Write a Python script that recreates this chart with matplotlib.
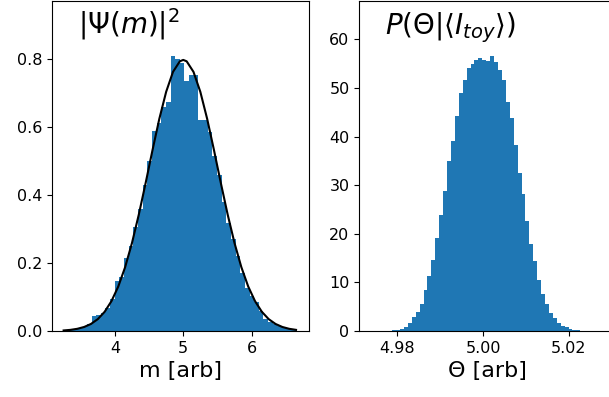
import numpy as np
import matplotlib
matplotlib.use("Agg")
import matplotlib.pyplot as plt
from matplotlib.ticker import FormatStrFormatter

# left panel: histogram of m (density), 50 bins
m_lo, m_hi = 3.25, 6.65
m_heights = [0.003, 0.005, 0.006, 0.009, 0.013, 0.020, 0.044, 0.046, 0.052, 0.068,
             0.095, 0.146, 0.160, 0.215, 0.250, 0.305, 0.360, 0.430, 0.500, 0.590,
             0.612, 0.660, 0.675, 0.810, 0.800, 0.790, 0.735, 0.755, 0.755, 0.620,
             0.622, 0.585, 0.515, 0.460, 0.380, 0.318, 0.272, 0.220, 0.172, 0.128,
             0.104, 0.086, 0.060, 0.034, 0.028, 0.022, 0.014, 0.010, 0.006, 0.004]

# black curve |Psi(m)|^2
curve_m = [3.25, 3.35, 3.45, 3.55, 3.65, 3.75, 3.85, 3.95, 4.05, 4.15, 4.25, 4.35,
           4.45, 4.55, 4.65, 4.75, 4.85, 4.95, 5.00, 5.05, 5.15, 5.25, 5.35, 5.45,
           5.55, 5.65, 5.75, 5.85, 5.95, 6.05, 6.15, 6.25, 6.35, 6.45, 6.55, 6.65]
curve_p = [0.0017, 0.0034, 0.0065, 0.0119, 0.0208, 0.0350, 0.0566, 0.0880, 0.1313,
           0.1881, 0.2591, 0.3428, 0.4357, 0.5322, 0.6245, 0.7041, 0.7628, 0.7939,
           0.7980, 0.7939, 0.7628, 0.7041, 0.6245, 0.5322, 0.4357, 0.3428, 0.2591,
           0.1881, 0.1313, 0.0880, 0.0566, 0.0350, 0.0208, 0.0119, 0.0065, 0.0034]

# right panel: histogram of Theta (density), 48 bins
t_lo, t_hi = 4.97878, 5.02269
t_heights = [0.2, 0.3, 0.45, 0.75, 1.6, 2.9, 3.9, 5.6, 8.4, 11.3, 14.6, 19.2,
             23.9, 28.9, 35.0, 39.1, 44.2, 49.0, 51.6, 54.1, 55.0, 55.8, 56.2, 55.8,
             55.6, 56.6, 55.4, 53.6, 51.7, 47.2, 43.9, 38.3, 32.5, 28.1, 22.6, 17.9,
             14.3, 10.4, 7.7, 5.6, 3.7, 2.6, 1.6, 1.1, 0.75, 0.45, 0.3, 0.2]

fig = plt.figure(figsize=(6.09, 3.97), dpi=100)
ax1 = fig.add_axes([0.0854, 0.1662, 0.422, 0.8318])
ax2 = fig.add_axes([0.590, 0.1662, 0.422, 0.8318])

edges = np.linspace(m_lo, m_hi, len(m_heights) + 1)
ax1.bar(edges[:-1], m_heights, width=np.diff(edges), align="edge", color="C0", linewidth=0)
ax1.plot(curve_m, curve_p, color="k", lw=1.5)
ax1.set_xlim(3.08, 6.84)
ax1.set_ylim(0, 1.2 * max(m_heights))
ax1.set_xticks([4, 5, 6])
ax1.set_xlabel("m [arb]", fontsize=16)
ax1.text(0.1, 0.9, r"$|\Psi(m)|^2$", transform=ax1.transAxes, fontsize=20)

edges = np.linspace(t_lo, t_hi, len(t_heights) + 1)
ax2.bar(edges[:-1], t_heights, width=np.diff(edges), align="edge", color="C0", linewidth=0)
ax2.set_xlim(4.9711, 5.0311)
ax2.set_ylim(0, 1.2 * max(t_heights))
ax2.set_xticks([4.98, 5.00, 5.02])
ax2.xaxis.set_major_formatter(FormatStrFormatter("%.2f"))
ax2.set_xlabel("Θ [arb]", fontsize=16)
ax2.text(0.1, 0.9, r"$P(\Theta|\langle I_{toy}\rangle)$", transform=ax2.transAxes, fontsize=20)

for ax in (ax1, ax2):
    ax.tick_params(labelsize=11.5)

fig.savefig("out.png", dpi=100)
